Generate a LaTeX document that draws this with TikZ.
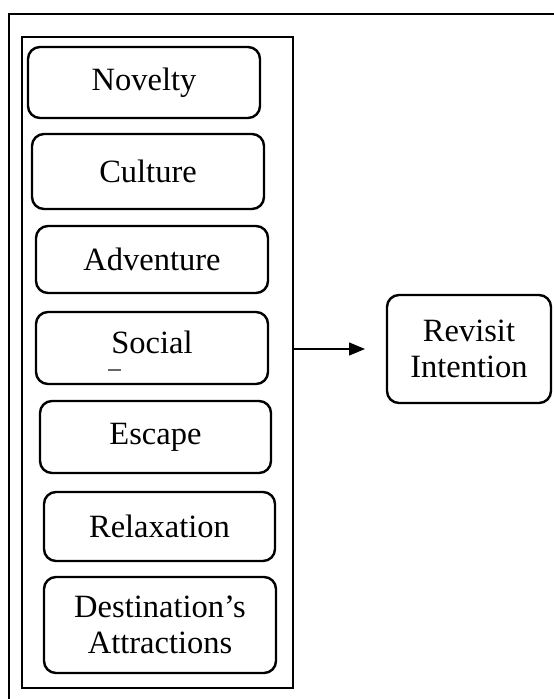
\documentclass[tikz,border=0pt]{standalone}
\usepackage{fontspec}
\setmainfont{Liberation Serif}
\usetikzlibrary{arrows.meta}
\begin{document}
\begin{tikzpicture}[x=1pt,y={(0pt,-1pt)},
  factor/.style={draw,line width=2.4pt,rounded corners=12pt,inner sep=0pt,outer sep=0pt,
    align=center,font=\fontsize{32.5}{36}\selectfont},
  frame/.style={draw,line width=2.4pt,inner sep=0pt,outer sep=0pt}]
\useasboundingbox (0,0) rectangle (554,699);
\clip (0,0) rectangle (554,699);
\fill[white] (0,0) rectangle (554,699);
% outer frame
\node[frame,minimum width=560pt,minimum height=700pt,anchor=north west] (outer) at (9,14) {};
% inner frame
\node[frame,minimum width=271pt,minimum height=651pt,anchor=north west] (inner) at (22,37) {};
% factors
\node[factor,minimum width=232pt,minimum height=71pt] (nov) at (144,82.5) {Novelty};
\node[factor,minimum width=232pt,minimum height=75pt] (cul) at (148,171.5) {Culture};
\node[factor,minimum width=232pt,minimum height=67pt] (adv) at (152,259.5) {Adventure};
\node[factor,minimum width=232pt,minimum height=72pt] (soc) at (152,348) {};
\node[font=\fontsize{32.5}{36}\selectfont,inner sep=0pt,anchor=base] (soctext) at (152,353) {Social};
\draw[line width=1.2pt,gray!80!black] ([xshift=-44pt,yshift=-22pt]soc.center) -- ([xshift=-31pt,yshift=-22pt]soc.center);
\node[factor,minimum width=231pt,minimum height=72pt] (esc) at (155.5,437) {Escape};
\node[factor,minimum width=231pt,minimum height=69pt] (rel) at (159.5,526.5) {Relaxation};
\node[factor,minimum width=232pt,minimum height=96pt] (dest) at (160,625) {Destination’s\\Attractions};
% outcome
\node[factor,minimum width=164pt,minimum height=108pt] (rev) at (469,349) {Revisit\\Intention};
% connector
\draw[line width=1.3pt,-{Triangle[length=16pt,width=13pt]}] (inner.east |- rev.west) -- ([xshift=-22pt]rev.west);
\end{tikzpicture}
\end{document}
